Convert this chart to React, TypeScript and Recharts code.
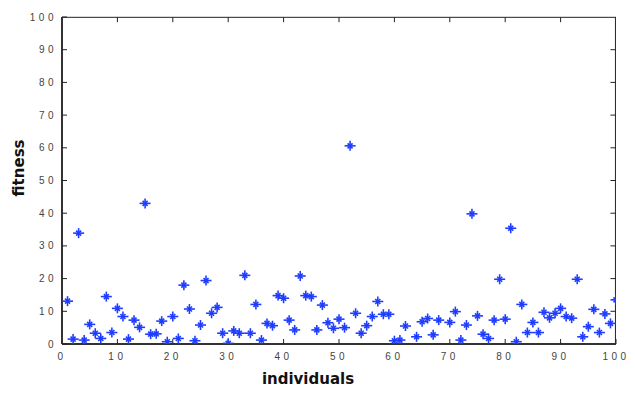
import React from "react";
import { ScatterChart, Scatter, XAxis, YAxis, ReferenceLine } from "recharts";

const individuals = [
  1, 2, 3, 4, 5, 6, 7, 8, 9, 10,
  11, 12, 13, 14, 15, 16, 17, 18, 19, 20,
  21, 22, 23, 24, 25, 26, 27, 28, 29, 30,
  31, 32, 33, 34, 35, 36, 37, 38, 39, 40,
  41, 42, 43, 44, 45, 46, 47, 48, 49, 50,
  51, 52, 53, 54, 55, 56, 57, 58, 59, 60,
  61, 62, 64, 65, 66, 67, 68, 70,
  71, 72, 73, 74, 75, 76, 77, 78, 79, 80,
  81, 82, 83, 84, 85, 86, 87, 88, 89, 90,
  91, 92, 93, 94, 95, 96, 97, 98, 99, 100,
];

const fitness = [
  13.1, 1.5, 33.9, 1.2, 6.0, 3.3, 1.7, 14.5, 3.5, 10.9,
  8.4, 1.5, 7.3, 5.1, 43.0, 3.0, 3.1, 7.0, 0.7, 8.4,
  1.7, 18.0, 10.7, 1.0, 5.8, 19.4, 9.4, 11.2, 3.3, 0.2,
  4.0, 3.3, 21.0, 3.3, 12.1, 1.2, 6.3, 5.6, 14.8, 14.0,
  7.3, 4.3, 20.8, 14.8, 14.5, 4.3, 11.9, 6.5, 4.8, 7.6,
  5.0, 60.6, 9.4, 3.3, 5.6, 8.4, 13.0, 9.1, 9.1, 1.0,
  1.2, 5.5, 2.2, 6.8, 7.8, 2.8, 7.3, 6.6,
  9.9, 1.2, 5.8, 39.8, 8.6, 3.0, 1.7, 7.3, 19.8, 7.6,
  35.4, 0.7, 12.1, 3.5, 6.6, 3.5, 9.7, 8.0, 9.4, 10.9,
  8.4, 7.9, 19.8, 2.2, 5.3, 10.6, 3.5, 9.2, 6.3, 13.5,
];

const axisTicks = [0, 10, 20, 30, 40, 50, 60, 70, 80, 90, 100];
const innerTicks = [10, 20, 30, 40, 50, 60, 70, 80, 90];
const AXIS_MIN = 0;
const AXIS_MAX = 100;
const FRAME_AT = 99.9;

const data = individuals.map((x, i) => ({ x, y: fitness[i] }));

const BLUE = "#1f3dff";
const FRAME = "#222";

const StarMarker = (props: any) => {
  const { cx, cy } = props;
  if (cx == null || cy == null) return null;
  return (
    <g stroke={BLUE} strokeWidth={1.6} fill="none">
      <line x1={cx - 5.5} y1={cy} x2={cx + 5.5} y2={cy} />
      <line x1={cx} y1={cy - 5} x2={cx} y2={cy + 5} />
      <line x1={cx - 2.5} y1={cy - 2.5} x2={cx + 2.5} y2={cy + 2.5} />
      <line x1={cx - 2.5} y1={cy + 2.5} x2={cx + 2.5} y2={cy - 2.5} />
    </g>
  );
};

const tickStyle = {
  fontFamily: "Liberation Sans, Arial, sans-serif",
  fontSize: 10,
  fill: "#444",
  letterSpacing: "3.5px",
};

const titleStyle: React.CSSProperties = {
  position: "absolute",
  fontFamily: "DejaVu Sans, sans-serif",
  fontWeight: "bold",
  fontSize: 15,
  lineHeight: "15px",
  color: "#111",
  whiteSpace: "nowrap",
};

export default function App() {
  return (
    <div
      style={{
        position: "absolute",
        left: 0,
        top: 0,
        width: 635,
        height: 393,
        background: "#fff",
      }}
    >
      <ScatterChart
        width={635}
        height={393}
        margin={{ top: 17, right: 19, bottom: 0, left: 0 }}
      >
        <XAxis
          dataKey="x"
          type="number"
          domain={[AXIS_MIN, AXIS_MAX]}
          ticks={axisTicks}
          orientation="bottom"
          height={49}
          tickSize={-5}
          tickMargin={14}
          tick={tickStyle}
          axisLine={{ stroke: "#333", strokeWidth: 2 }}
          tickLine={{ stroke: FRAME, strokeWidth: 1 }}
          allowDataOverflow
        />
        <YAxis
          dataKey="y"
          type="number"
          domain={[AXIS_MIN, AXIS_MAX]}
          ticks={axisTicks}
          orientation="left"
          width={62}
          tickSize={-5}
          tickMargin={10}
          tick={tickStyle}
          axisLine={{ stroke: "#333", strokeWidth: 2 }}
          tickLine={{ stroke: FRAME, strokeWidth: 1 }}
          allowDataOverflow
        />
        <ReferenceLine y={FRAME_AT} stroke={FRAME} strokeWidth={1} ifOverflow="visible" />
        <ReferenceLine x={FRAME_AT} stroke={FRAME} strokeWidth={1} ifOverflow="visible" />
        {innerTicks.map((t) => (
          <ReferenceLine
            key={"top" + t}
            segment={[
              { x: t, y: FRAME_AT },
              { x: t, y: FRAME_AT - 1.5 },
            ]}
            stroke={FRAME}
            strokeWidth={1}
            ifOverflow="visible"
          />
        ))}
        {innerTicks.map((t) => (
          <ReferenceLine
            key={"right" + t}
            segment={[
              { x: FRAME_AT, y: t },
              { x: FRAME_AT - 0.9, y: t },
            ]}
            stroke={FRAME}
            strokeWidth={1}
            ifOverflow="visible"
          />
        ))}
        <Scatter
          data={data}
          shape={StarMarker}
          isAnimationActive={false}
        />
      </ScatterChart>
      <div
        style={{
          ...titleStyle,
          left: 258,
          width: 100,
          top: 372,
          textAlign: "center",
        }}
      >
        individuals
      </div>
      <div
        style={{
          ...titleStyle,
          left: 19,
          top: 168,
          transform: "translate(-50%, -50%) rotate(-90deg)",
        }}
      >
        fitness
      </div>
    </div>
  );
}
